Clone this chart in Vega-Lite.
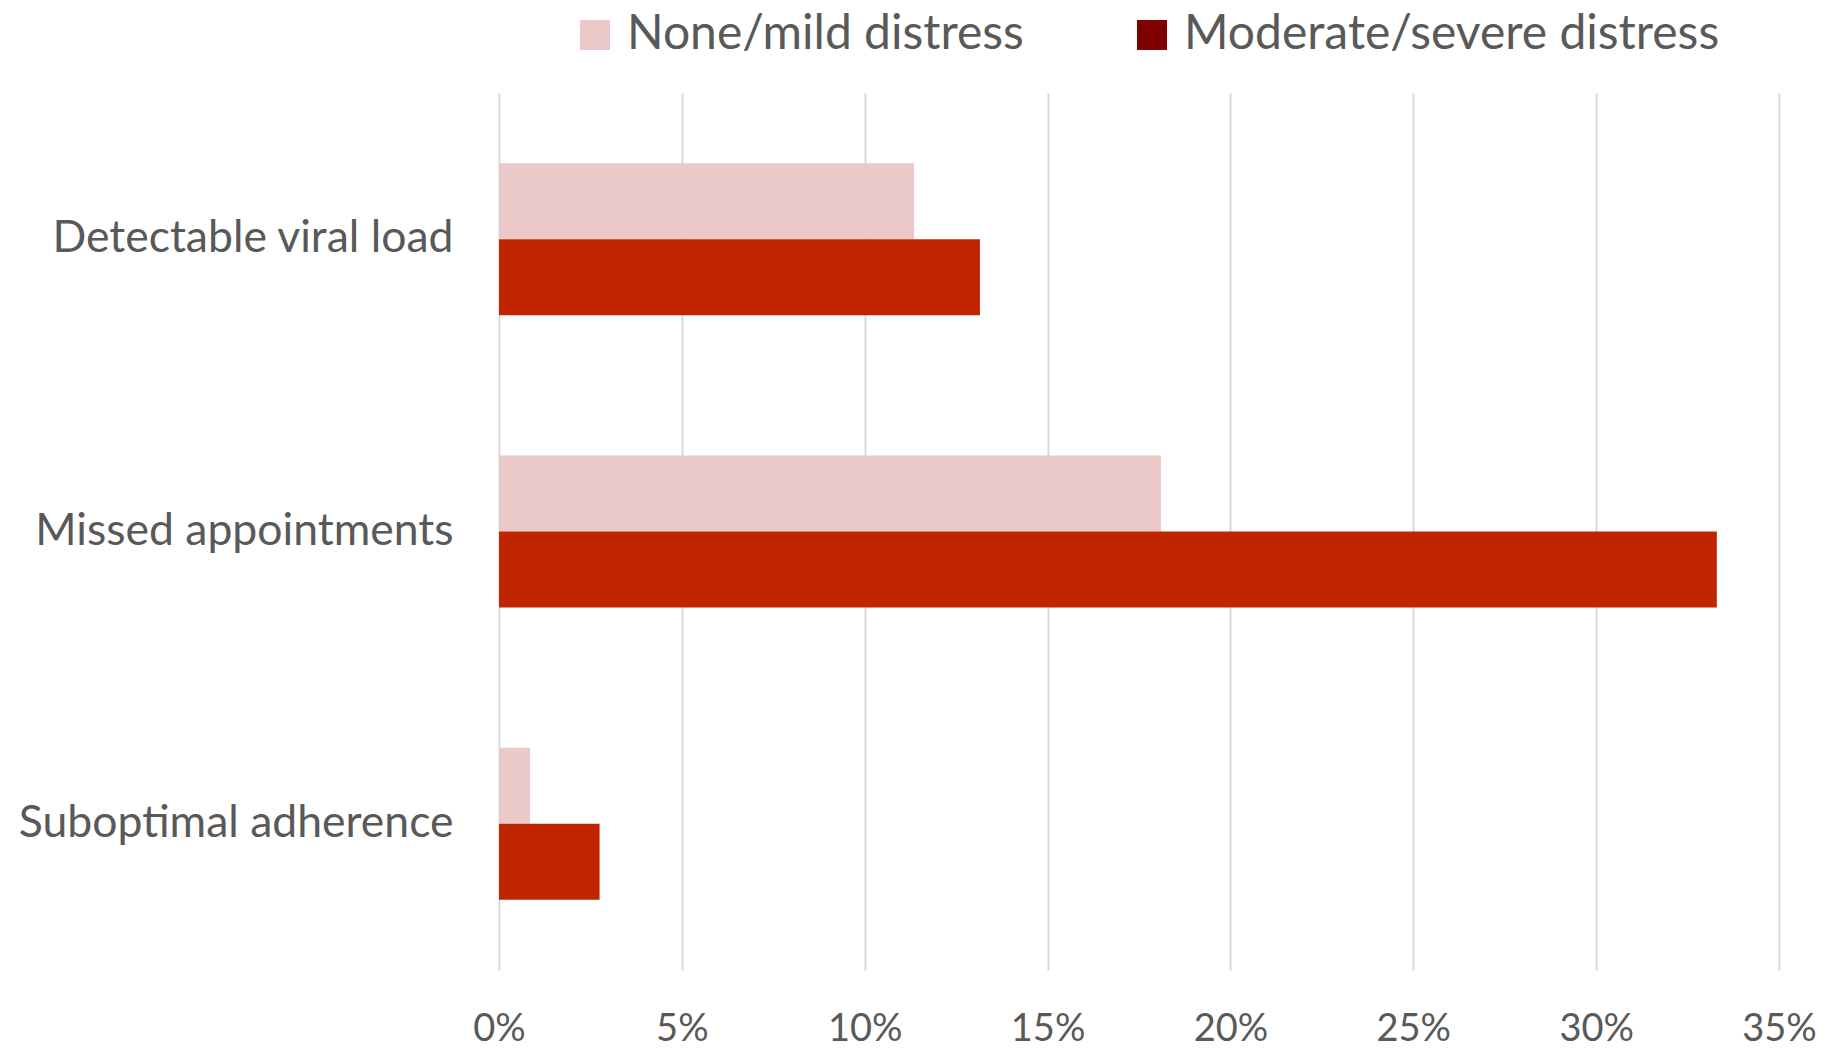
{
  "$schema": "https://vega.github.io/schema/vega-lite/v6.json",
  "autosize": {"type": "none"},
  "width": 1280,
  "height": 877,
  "padding": {"left": 499, "top": 93, "right": 50, "bottom": 81},
  "background": "white",
  "config": {
    "view": {"stroke": null},
    "font": "Lato",
    "axis": {"labelFont": "Lato", "labelColor": "#595959"},
    "legend": {"labelFont": "Lato"}
  },
  "data": {
    "values": [
      {"measure": "Detectable viral load", "group": "None/mild distress", "value": 0.1135},
      {"measure": "Detectable viral load", "group": "Moderate/severe distress", "value": 0.1315},
      {"measure": "Missed appointments", "group": "None/mild distress", "value": 0.181},
      {"measure": "Missed appointments", "group": "Moderate/severe distress", "value": 0.333},
      {"measure": "Suboptimal adherence", "group": "None/mild distress", "value": 0.0085},
      {"measure": "Suboptimal adherence", "group": "Moderate/severe distress", "value": 0.0275}
    ]
  },
  "encoding": {
    "y": {
      "field": "measure", "type": "nominal",
      "sort": ["Detectable viral load", "Missed appointments", "Suboptimal adherence"],
      "scale": {"paddingInner": 0.48, "paddingOuter": 0.24},
      "axis": {"title": null, "domain": false, "ticks": false, "grid": false, "labelFontSize": 44.5, "labelPadding": 46, "labelLimit": 500}
    },
    "yOffset": {
      "field": "group", "type": "nominal",
      "sort": ["None/mild distress", "Moderate/severe distress"]
    }
  },
  "layer": [
    {
      "mark": {"type": "bar", "strokeWidth": 0},
      "encoding": {
        "x": {
          "field": "value", "type": "quantitative",
          "scale": {"domain": [0, 0.35], "nice": false},
          "axis": {
            "title": null, "domain": false, "ticks": false, "grid": true,
            "gridColor": "#D9D9D9", "gridWidth": 2,
            "values": [0, 0.05, 0.1, 0.15, 0.2, 0.25, 0.3, 0.35],
            "format": ".0%", "labelFontSize": 38, "labelPadding": 40, "labelFlush": false
          }
        },
        "color": {
          "field": "group", "type": "nominal",
          "scale": {"domain": ["None/mild distress", "Moderate/severe distress"], "range": ["#EBC9C9", "#C02500"]},
          "legend": null
        }
      }
    },
    {
      "mark": {"type": "bar", "strokeWidth": 0},
      "encoding": {
        "x": {"datum": 0, "type": "quantitative"},
        "x2": {"datum": 0},
        "color": {
          "field": "group", "type": "nominal",
          "scale": {"domain": ["None/mild distress", "Moderate/severe distress"], "range": ["#EBC9C9", "#7F0000"]},
          "legend": {
            "title": null, "orient": "none", "direction": "horizontal",
            "legendX": 72, "legendY": -82,
            "symbolType": "square", "symbolSize": 900, "symbolStrokeWidth": 0,
            "labelFontSize": 48, "labelColor": "#595959", "labelOffset": 8,
            "columnPadding": 104, "labelLimit": 800
          }
        }
      }
    }
  ],
  "resolve": {"scale": {"color": "independent"}}
}
